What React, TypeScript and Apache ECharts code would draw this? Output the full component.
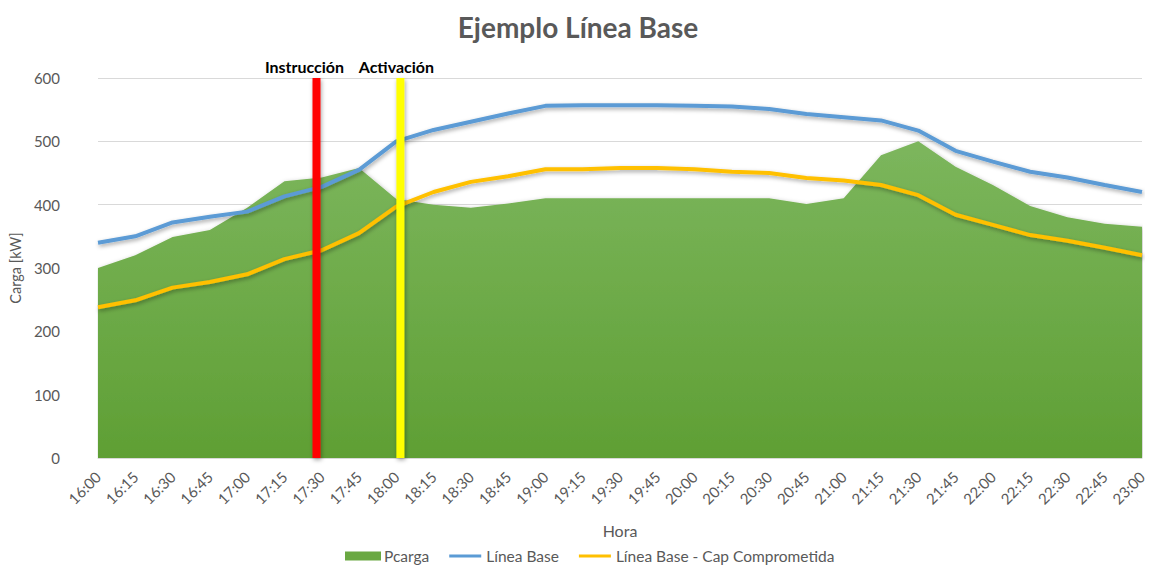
import React, { useEffect, useRef } from "react";
import * as echarts from "echarts";

const categories = [
  "16:00", "16:15", "16:30", "16:45", "17:00", "17:15", "17:30", "17:45",
  "18:00", "18:15", "18:30", "18:45", "19:00", "19:15", "19:30", "19:45",
  "20:00", "20:15", "20:30", "20:45", "21:00", "21:15", "21:30", "21:45",
  "22:00", "22:15", "22:30", "22:45", "23:00",
];

const pcarga = [
  300, 320, 349, 360, 395, 437, 443, 458, 409, 400, 395, 402, 410, 410, 410,
  410, 410, 410, 410, 401, 410, 478, 500, 460, 431, 398, 380, 370, 365,
];

const lineaBase = [
  340, 350, 372, 381, 389, 413, 428, 455, 500, 518, 531, 544, 556, 557, 557,
  557, 556, 555, 551, 543, 538, 533, 517, 485, 468, 452, 443, 431, 420,
];

const lineaBaseCap = [
  238, 249, 269, 278, 290, 314, 328, 355, 397, 420, 436, 445, 456, 456, 458,
  458, 456, 452, 450, 442, 438, 431, 415, 384, 368, 352, 343, 332, 320,
];

// Event markers (position in category-index units along the time axis)
const eventPositions = [5.86, 8.11];
const eventLabels = ["Instrucción", "Activación"];
const eventColors = ["#ff0000", "#ffff00"];
const eventLabelShift = [-12, -4];

const yTicks = { min: 0, max: 600, interval: 100 };

export default function App() {
  const ref = useRef<HTMLDivElement>(null);

  useEffect(() => {
    if (!ref.current) return;
    const chart = echarts.init(ref.current, undefined, { renderer: "svg" });
    const font = "Lato, 'Noto Sans', sans-serif";
    const lineShadow = {
      shadowBlur: 4,
      shadowColor: "rgba(0,0,0,0.35)",
      shadowOffsetY: 2,
      shadowOffsetX: 1,
    };
    const lineIcon = "path://M0,0 L0,0 M0,3 L32,3 L32,6 L0,6 Z M32,9 L32,9";
    chart.setOption({
      animation: false,
      textStyle: { fontFamily: font },
      title: {
        text: "Ejemplo Línea Base",
        left: "center",
        top: 8,
        textStyle: { fontSize: 28, fontWeight: "bold", color: "#595959", fontFamily: font },
      },
      grid: { left: 96, right: 14, top: 78, bottom: 113 },
      legend: {
        bottom: 2,
        left: 340,
        itemWidth: 36,
        itemHeight: 9,
        itemGap: 20,
        data: [
          { name: "Pcarga", icon: "rect" },
          { name: "Línea Base", icon: lineIcon },
          { name: "Línea Base - Cap Comprometida", icon: lineIcon },
        ],
        textStyle: { fontSize: 15.5, color: "#595959", fontFamily: font, padding: [0, 0, 0, -2] },
      },
      xAxis: [
        {
          type: "category",
          data: categories,
          boundaryGap: false,
          name: "Hora",
          nameLocation: "middle",
          nameGap: 64,
          nameTextStyle: { fontSize: 16, color: "#595959" },
          axisLine: { lineStyle: { color: "#d9d9d9", width: 1 } },
          axisTick: { show: false },
          axisLabel: { rotate: 45, fontSize: 15, color: "#595959", margin: 16 },
          splitLine: { show: false },
        },
        {
          type: "value",
          min: 0,
          max: categories.length - 1,
          show: false,
          splitLine: { show: false },
        },
      ],
      yAxis: {
        type: "value",
        min: yTicks.min,
        max: yTicks.max,
        interval: yTicks.interval,
        name: "Carga [kW]",
        nameLocation: "middle",
        nameGap: 72,
        nameTextStyle: { fontSize: 14.5, color: "#595959" },
        axisLine: { show: false },
        axisTick: { show: false },
        axisLabel: { fontSize: 15, color: "#595959", margin: 38 },
        splitLine: { lineStyle: { color: "#d9d9d9", width: 1 } },
      },
      series: [
        {
          name: "Pcarga",
          type: "line",
          data: pcarga,
          symbol: "none",
          lineStyle: { width: 0 },
          itemStyle: { color: "#6aa842" },
          areaStyle: {
            opacity: 1,
            color: new echarts.graphic.LinearGradient(0, 0, 0, 1, [
              { offset: 0, color: "#7cb65d" },
              { offset: 1, color: "#5f9f34" },
            ]),
            shadowBlur: 4,
            shadowColor: "rgba(0,0,0,0.25)",
            shadowOffsetX: 1,
            shadowOffsetY: 1,
          },
          z: 1,
        },
        {
          name: "Línea Base",
          type: "line",
          data: lineaBase,
          symbol: "none",
          itemStyle: { color: "#5b9bd5" },
          lineStyle: { width: 4, color: "#5b9bd5", ...lineShadow },
          z: 3,
        },
        {
          name: "Línea Base - Cap Comprometida",
          type: "line",
          data: lineaBaseCap,
          symbol: "none",
          itemStyle: { color: "#ffc000" },
          lineStyle: { width: 4, color: "#ffc000", ...lineShadow },
          z: 3,
        },
        {
          name: "eventos",
          type: "custom",
          xAxisIndex: 1,
          yAxisIndex: 0,
          clip: false,
          silent: true,
          z: 5,
          data: eventPositions.map((p) => [p]),
          renderItem: (params: any, api: any) => {
            const i = params.dataIndex;
            const x = api.value(0);
            const top = api.coord([x, yTicks.max]);
            const bottom = api.coord([x, yTicks.min]);
            return {
              type: "group",
              children: [
                {
                  type: "rect",
                  shape: { x: top[0] - 4, y: top[1], width: 8, height: bottom[1] - top[1] },
                  style: { fill: eventColors[i], ...lineShadow },
                },
                {
                  type: "text",
                  style: {
                    text: eventLabels[i],
                    x: top[0] + eventLabelShift[i],
                    y: top[1] - 4,
                    align: "center",
                    verticalAlign: "bottom",
                    fill: "#000",
                    fontSize: 16,
                    fontWeight: "bold",
                    fontFamily: font,
                  },
                },
              ],
            };
          },
        },
      ],
    });
    return () => chart.dispose();
  }, []);

  return <div ref={ref} style={{ width: 1156, height: 571, position: "absolute", left: 0, top: 0 }} />;
}
